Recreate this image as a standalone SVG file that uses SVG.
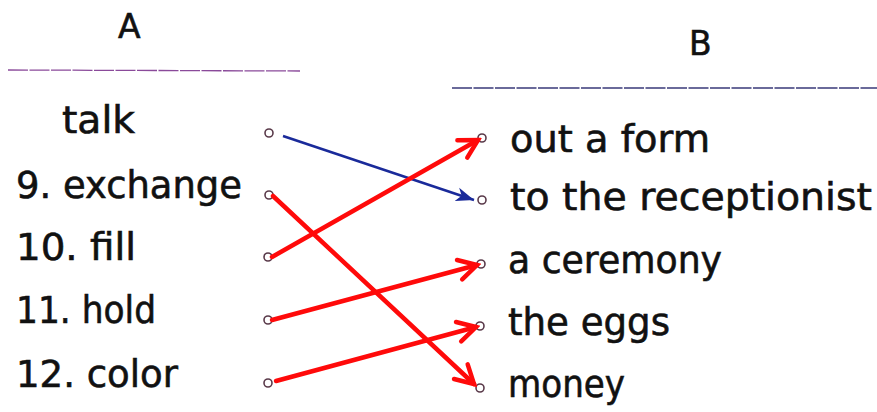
<svg xmlns="http://www.w3.org/2000/svg" width="877" height="412" viewBox="0 0 877 412">
<defs>
<style>
text{font-family:"DejaVu Sans","Liberation Sans",sans-serif;fill:#111;stroke:#111;stroke-width:0.6;}
.item{font-size:37px;}
.hdr{font-size:33px;}
.dot{fill:#fff;stroke:#5a3a4a;stroke-width:1.6;}
.red{stroke:#ff0a0a;stroke-width:4.5;fill:none;stroke-linecap:round;}
.blue{stroke:#1a2a9a;stroke-width:2.5;fill:none;}
.rule{stroke-width:1.3;stroke-dasharray:20 1.5;}
</style>
<marker id="arR" markerWidth="26" markerHeight="26" refX="22" refY="13" orient="auto" markerUnits="userSpaceOnUse" viewBox="0 0 26 26">
<path d="M4,3 L22,13 L4,23" fill="none" stroke="#ff0a0a" stroke-width="4.5" stroke-linecap="round" stroke-linejoin="miter"/>
</marker>
<marker id="arB" markerWidth="20" markerHeight="16" refX="18" refY="8" orient="auto" markerUnits="userSpaceOnUse" viewBox="0 0 20 16">
<path d="M0,1 L18,8 L0,15 L5,8 Z" fill="#1a2a9a"/>
</marker>
</defs>
<rect width="877" height="412" fill="#fff"/>
<g id="headerA"><text class="hdr" x="118" y="38">A</text><line class="rule" x1="8" y1="70" x2="300" y2="71" stroke="#8a4a9a"/></g>
<g id="headerB"><text class="hdr" x="689" y="55">B</text><line class="rule" x1="452" y1="88" x2="877" y2="88" stroke="#3a3a7a"/></g>
<g id="a8"><text class="item" x="62" y="133" textLength="73" lengthAdjust="spacingAndGlyphs">talk</text><circle class="dot" cx="269" cy="133" r="4"/></g>
<g id="a9"><text class="item" x="16" y="198" textLength="226" lengthAdjust="spacingAndGlyphs">9. exchange</text><circle class="dot" cx="269" cy="195" r="4"/></g>
<g id="a10"><text class="item" x="16" y="260" textLength="120" lengthAdjust="spacingAndGlyphs">10. fill</text><circle class="dot" cx="268" cy="257" r="4"/></g>
<g id="a11"><text class="item" x="16" y="323" textLength="140" lengthAdjust="spacingAndGlyphs">11. hold</text><circle class="dot" cx="268" cy="320" r="4"/></g>
<g id="a12"><text class="item" x="16" y="387" textLength="162" lengthAdjust="spacingAndGlyphs">12. color</text><circle class="dot" cx="268" cy="383" r="4"/></g>
<g id="b1"><text class="item" x="510" y="152" textLength="200" lengthAdjust="spacingAndGlyphs">out a form</text><circle class="dot" cx="482" cy="138" r="4"/></g>
<g id="b2"><text class="item" x="510" y="210" textLength="362" lengthAdjust="spacingAndGlyphs">to the receptionist</text><circle class="dot" cx="482" cy="200" r="4"/></g>
<g id="b3"><text class="item" x="508" y="273" textLength="214" lengthAdjust="spacingAndGlyphs">a ceremony</text><circle class="dot" cx="481" cy="264" r="4"/></g>
<g id="b4"><text class="item" x="508" y="335" textLength="162" lengthAdjust="spacingAndGlyphs">the eggs</text><circle class="dot" cx="480" cy="326" r="4"/></g>
<g id="b5"><text class="item" x="508" y="397" textLength="117" lengthAdjust="spacingAndGlyphs">money</text><circle class="dot" cx="480" cy="388" r="4"/></g>
<g id="connectors">
<line class="blue" x1="283" y1="136" x2="474" y2="200" marker-end="url(#arB)"/>
<line class="red" x1="273" y1="196" x2="474" y2="384" marker-end="url(#arR)"/>
<line class="red" x1="272" y1="257" x2="478" y2="140" marker-end="url(#arR)"/>
<line class="red" x1="272" y1="320" x2="477" y2="265" marker-end="url(#arR)"/>
<line class="red" x1="276" y1="381" x2="476" y2="327" marker-end="url(#arR)"/>
</g>
</svg>
